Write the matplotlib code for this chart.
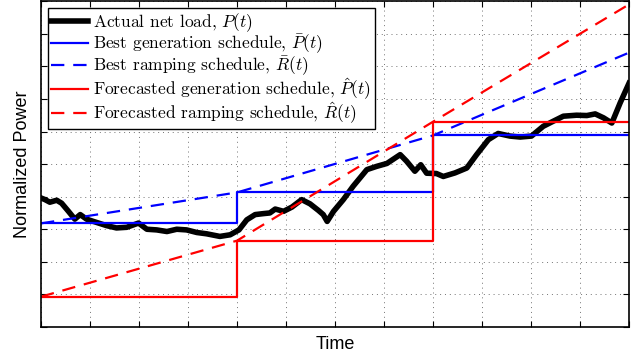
import numpy as np
import matplotlib
matplotlib.use("Agg")
from matplotlib import pyplot as plt

# actual net load
t_load = [0, 0.08, 0.18, 0.32, 0.42, 0.56, 0.69, 0.8, 0.93, 1.07, 1.34, 1.54, 1.75, 1.99,
          2.16, 2.36, 2.57, 2.77, 2.97, 3.18, 3.38, 3.65, 3.86, 4.04, 4.2, 4.37, 4.54,
          4.67, 4.78, 4.95, 5.12, 5.32, 5.49, 5.66, 5.76, 5.84, 5.97, 6.17, 6.37, 6.65,
          6.85, 7.06, 7.33, 7.46, 7.63, 7.75, 7.87, 8.07, 8.21, 8.45, 8.69, 8.89, 9.13,
          9.33, 9.57, 9.78, 10.01, 10.25, 10.46, 10.66, 10.93, 11.14, 11.31, 11.48,
          11.65, 11.82, 12.0]
p_load = [3.96, 3.91, 3.83, 3.89, 3.80, 3.55, 3.31, 3.45, 3.31, 3.24, 3.11, 3.04, 3.06, 3.19,
          3.0, 2.98, 2.93, 3.0, 2.98, 2.9, 2.86, 2.78, 2.83, 2.98, 3.29, 3.45, 3.48,
          3.5, 3.62, 3.55, 3.68, 3.91, 3.78, 3.58, 3.45, 3.24, 3.55, 3.91, 4.32, 4.83,
          4.93, 5.02, 5.29, 5.09, 4.78, 4.98, 4.72, 4.71, 4.62, 4.73, 4.88, 5.29, 5.75,
          5.94, 5.86, 5.83, 5.86, 6.16, 6.32, 6.47, 6.5, 6.49, 6.54, 6.42,
          6.26, 6.88, 7.48]

# schedules, one value per block (blocks start at t=0, 4, 8)
t_step = [0, 4, 8, 12]
best_gen = [3.18, 4.13, 5.88, 5.88]
fc_gen = [0.93, 2.65, 6.3, 6.3]

# ramping schedules, piecewise per block
t_ramp = [0, 4, 4, 8, 8, 12]
best_ramp = [3.18, 4.13, 4.13, 5.88, 5.88, 8.42]
fc_ramp = [0.93, 2.65, 2.65, 6.3, 6.3, 9.9]

plt.rcParams['mathtext.fontset'] = 'cm'

fig = plt.figure(figsize=(6.44, 3.6), dpi=100)
ax = fig.add_axes([0.0637, 0.0917, 0.913, 0.905])

ax.plot(t_load, p_load, color='k', lw=4, solid_joinstyle='round',
        label=r'Actual net load, $P(t)$')
ax.step(t_step, best_gen, where='post', color='b', lw=1.6,
        label=r'Best generation schedule, $\bar{P}(t)$')
ax.plot(t_ramp, best_ramp, color='b', lw=1.6, dashes=(6, 4),
        label=r'Best ramping schedule, $\bar{R}(t)$')
ax.step(t_step, fc_gen, where='post', color='r', lw=1.6,
        label=r'Forecasted generation schedule, $\hat{P}(t)$')
ax.plot(t_ramp, fc_ramp, color='r', lw=1.6, dashes=(6, 4),
        label=r'Forecasted ramping schedule, $\hat{R}(t)$')

ax.set_xlim(0, 12)
ax.set_ylim(0, 10)
ax.set_xticks(np.arange(0, 13, 1))
ax.set_yticks(np.arange(0, 11, 1))
ax.set_xticklabels([])
ax.set_yticklabels([])
ax.tick_params(direction='in', length=4, top=True, right=True, width=0.8)
ax.grid(True, color='0.45', linestyle=(0, (1, 4)), lw=0.7)
for s in ax.spines.values():
    s.set_linewidth(1.2)

ax.set_xlabel('Time', fontsize=13, family='Liberation Sans', labelpad=3)
ax.set_ylabel('Normalized Power', fontsize=13, family='Liberation Sans', labelpad=4)

leg = ax.legend(loc='upper left', prop={'family': 'cmr10', 'size': 12.5},
                frameon=True, fancybox=False, edgecolor='k', framealpha=1,
                handlelength=2.1, handletextpad=0.3, labelspacing=-0.1,
                borderpad=0.2, borderaxespad=0.4)
leg.get_frame().set_linewidth(1.0)

fig.savefig('out.png', dpi=100)
